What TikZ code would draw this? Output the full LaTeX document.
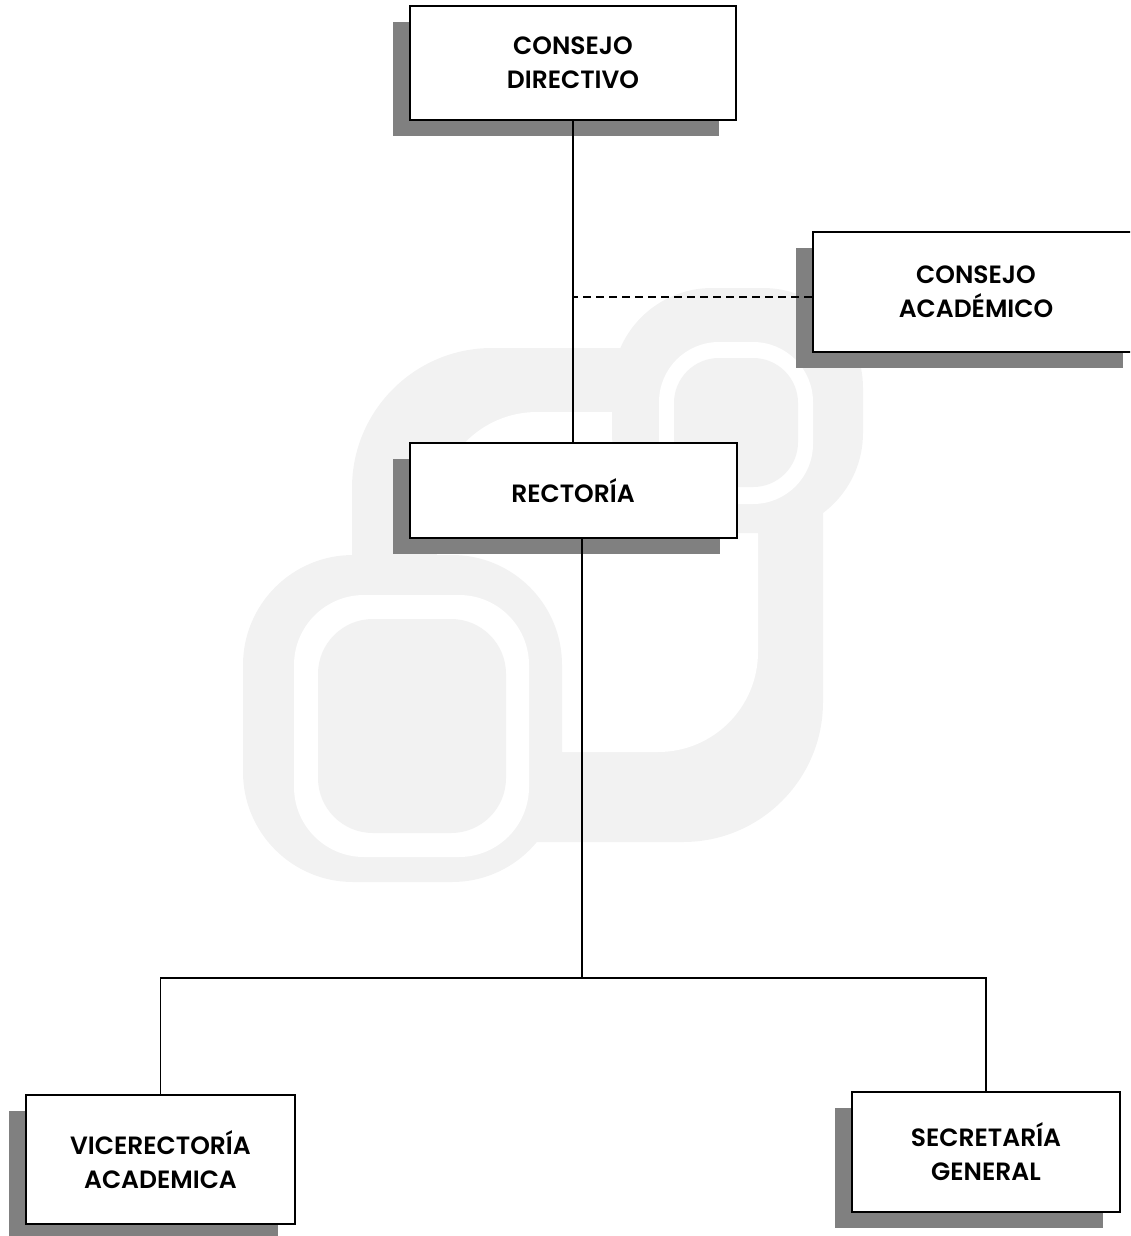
\documentclass[tikz,border=0pt]{standalone}
\usepackage{fontspec}
\setmainfont{Poppins}[BoldFont={Poppins SemiBold}]
\usepackage{xcolor}
\usetikzlibrary{positioning}
\usetikzlibrary{shadows}
\definecolor{shadowgray}{HTML}{808080}
\definecolor{markgray}{HTML}{F2F2F2}
\tikzset{org box/.style={
          draw, line width=2pt, fill=white, align=center, inner sep=0pt,
          font=\bfseries\fontsize{25}{34}\selectfont,
          drop shadow={shadow xshift=-17pt, shadow yshift=-16pt, fill=shadowgray, opacity=1}
          },
        link/.style={line width=1.5pt},
        mark band/.style={fill=markgray, draw=none},
        mark gap/.style={fill=white, draw=none},
}

\begin{document}
\begin{tikzpicture}[x=1pt, y=-1pt]
      \useasboundingbox (0,0) rectangle (1130,1236);
      \clip (0,0) rectangle (1130,1236);

      % WATERMARK (faint logo behind the chart)
      \fill[mark band, rounded corners=140pt] (352,348) rectangle (823,842);
      \fill[mark gap, rounded corners=100pt] (437,412) rectangle (758,752);
      \fill[mark band, rounded corners=110pt] (243,555) rectangle (562,882);
      \fill[mark gap, rounded corners=70pt] (294,595) rectangle (529,857);
      \fill[mark band, rounded corners=55pt] (318,619) rectangle (506,833);
      \fill[mark band, rounded corners=100pt] (612,288) rectangle (863,533);
      \fill[mark gap, rounded corners=60pt] (659,342) rectangle (813,504);
      \fill[mark band, rounded corners=45pt] (674,358) rectangle (798,487);

      % CONSEJO DIRECTIVO
      \node[org box, minimum width=326pt, minimum height=114pt] (directivo) at (573,63) {CONSEJO\\DIRECTIVO};

      % RECTORIA
      \node[org box, minimum width=327pt, minimum height=95pt, below=321pt of directivo] (rectoria) {RECTORÍA};

      % CONSEJO ACADEMICO
      \node[org box, minimum width=327pt, minimum height=120pt] (academico) at (976,292) {CONSEJO\\ACADÉMICO};

      % VICERECTORIA / SECRETARIA
      \node[org box, minimum width=269pt, minimum height=129pt] (vice) at (160.5,1159.5) {VICERECTORÍA\\ACADEMICA};
      \node[org box, minimum width=268pt, minimum height=120pt] (secretaria) at (986,1152) {SECRETARÍA\\GENERAL};

      % WIRING
      \coordinate (bar) at (582,978);
      \draw[link] (directivo.south) -- (rectoria.north);
      \draw[link, line width=1.2pt, dash pattern=on 8pt off 5pt] ([yshift=-5pt]academico.west) -- ([yshift=-5pt]academico.west -| directivo.south);
      \draw[link] (rectoria.south -| bar) -- (bar);
      \draw[link] (vice.north) |- (bar) -| (secretaria.north);

\end{tikzpicture}
\end{document}
